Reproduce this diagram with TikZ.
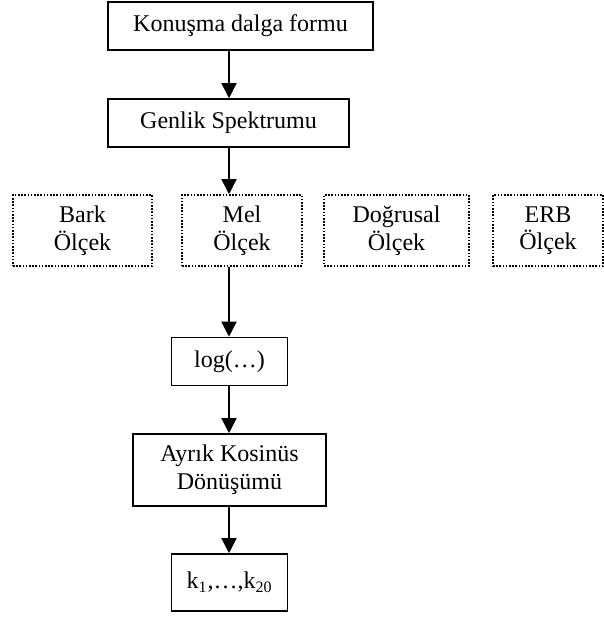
\documentclass[tikz,border=0pt]{standalone}
\usepackage{fontspec}
\setmainfont{Liberation Serif}
\usetikzlibrary{arrows.meta}
\tikzset{
  every node/.style={font=\fontsize{12}{13.8}\selectfont, align=center, inner sep=0pt},
  solidbox/.style={draw, line width=0.8pt, rectangle},
  dotbox/.style={draw, line width=0.8pt, rectangle, dash pattern=on 0.8pt off 0.8pt},
  arr/.style={line width=0.8pt, -{Triangle[length=7.5pt,width=7.5pt]}}
}
\begin{document}
\begin{tikzpicture}[x=0.5pt,y=-0.5pt]
\useasboundingbox (0,0) rectangle (604,617);
\coordinate (ax) at (229,0);
\node[solidbox, minimum width=132.5pt, minimum height=24pt] (kon) at (240.5,26) {Konuşma dalga formu};
\node[solidbox, minimum width=120.5pt, minimum height=24pt] (gen) at (228.5,123) {Genlik Spektrumu};
\node[dotbox, minimum width=69.5pt, minimum height=35.5pt] (bark) at (82.5,230.5) {Bark\\Ölçek};
\node[dotbox, minimum width=60pt, minimum height=35.5pt] (mel) at (242,230.5) {Mel\\Ölçek};
\node[dotbox, minimum width=72.5pt, minimum height=35.5pt] (dog) at (396.5,230.5) {Doğrusal\\Ölçek};
\node[dotbox, minimum width=55pt, minimum height=35.5pt] (erb) at (548,230.5) {ERB\\Ölçek};
\node[solidbox, minimum width=58pt, minimum height=24pt] (log) at (229.5,361.5) {log(…)};
\node[solidbox, minimum width=96.5pt, minimum height=36pt] (dct) at (229.5,470) {Ayrık Kosinüs\\Dönüşümü};
\node[solidbox, minimum width=58pt, minimum height=28.5pt] (kk) at (229.5,582.5) {k\textsubscript{1},…,k\textsubscript{20}};
\draw[arr] (kon.south -| ax) -- (gen.north -| ax);
\draw[arr] (gen.south -| ax) -- (mel.north -| ax);
\draw[arr] (mel.south -| ax) -- (log.north -| ax);
\draw[arr] (log.south -| ax) -- (dct.north -| ax);
\draw[arr] (dct.south -| ax) -- (kk.north -| ax);
\end{tikzpicture}
\end{document}
